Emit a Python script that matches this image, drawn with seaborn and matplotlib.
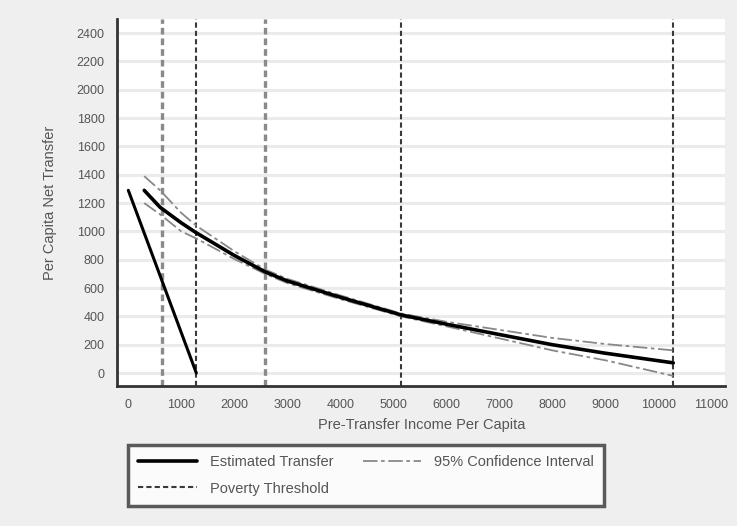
import pandas as pd
import numpy as np
import matplotlib.pyplot as plt
import seaborn as sns
from matplotlib.lines import Line2D

# Values
income = [300, 600, 1000, 1283, 2000, 2585, 3000, 4000, 5150, 6000, 7000, 8000, 9000, 10280]
estimated = [1290, 1170, 1060, 990, 830, 714, 650, 535, 410, 345, 272, 200, 140, 72]
ci_upper = [1390, 1290, 1130, 1040, 860, 730, 665, 548, 420, 362, 305, 248, 205, 160]
ci_lower = [1200, 1120, 1000, 950, 805, 700, 635, 522, 400, 330, 245, 160, 90, -20]

zero_x = [0, 1283]
zero_y = [1290, 0]

thresholds_dark = [1283, 5150, 10280]
thresholds_light = [640, 2585]

sns.set_style("white")
plt.rcParams['font.family'] = ['Liberation Sans', 'DejaVu Sans']

fig = plt.figure(figsize=(7.37, 5.26), dpi=100, facecolor='#efefef')
ax = fig.add_axes([0.159, 0.266, 0.825, 0.698])
ax.set_facecolor('white')

df = pd.DataFrame({'income': income, 'est': estimated, 'hi': ci_upper, 'lo': ci_lower})

# grid
for yv in range(0, 2600, 200):
    ax.axhline(yv, color='#ebebeb', lw=2.2, zorder=0)

for xv in thresholds_light:
    ax.axvline(xv, color='#8a8a8a', lw=2.4, ls=(0, (2, 1.2)), zorder=1)
for xv in thresholds_dark:
    ax.axvline(xv, color='#3a3a3a', lw=1.5, ls=(0, (2.5, 1.5)), zorder=1)

sns.lineplot(x=zero_x, y=zero_y, ax=ax, color='black', lw=2.2, zorder=3)
sns.lineplot(data=df, x='income', y='hi', ax=ax, color='#888888', lw=1.3, ls=(0, (8, 2, 2, 2)), zorder=2)
sns.lineplot(data=df, x='income', y='lo', ax=ax, color='#888888', lw=1.3, ls=(0, (8, 2, 2, 2)), zorder=2)
sns.lineplot(data=df, x='income', y='est', ax=ax, color='black', lw=2.6, zorder=4)

ax.set_xlim(-210, 11260)
ax.set_ylim(-92, 2500)
ax.set_xticks(range(0, 12000, 1000))
ax.set_yticks(range(0, 2600, 200))

for s in ['top', 'right']:
    ax.spines[s].set_visible(False)
for s in ['left', 'bottom']:
    ax.spines[s].set_color('#333333')
    ax.spines[s].set_linewidth(2)

ax.tick_params(axis='both', direction='out', length=5, width=1.5, color='#222222',
               labelsize=9, labelcolor='#555555', pad=4)
ax.set_xlabel("Pre-Transfer Income Per Capita", fontsize=10.5, color='#555555', labelpad=5)
ax.set_ylabel("Per Capita Net Transfer", fontsize=10.5, color='#555555', labelpad=14)

handles = [
    Line2D([], [], color='black', lw=2.6),
    Line2D([], [], color='#3a3a3a', lw=1.5, ls=(0, (2.5, 1.5))),
    Line2D([], [], color='#888888', lw=1.3, ls=(0, (8, 2, 2, 2))),
]
labels = ["Estimated Transfer", "Poverty Threshold", "95% Confidence Interval"]
leg = fig.legend(handles, labels,
                 ncol=2, loc='upper left', bbox_to_anchor=(0.174, 0.154),
                 frameon=True, fancybox=False, fontsize=10.5, handlelength=4.0,
                 handletextpad=0.9, columnspacing=2.0, borderpad=0.7,
                 labelspacing=0.85, borderaxespad=0)
leg.get_frame().set_edgecolor('#333333')
leg.get_frame().set_linewidth(2.5)
for t in leg.get_texts():
    t.set_color('#555555')

fig.savefig('out.png', dpi=100, facecolor=fig.get_facecolor())
